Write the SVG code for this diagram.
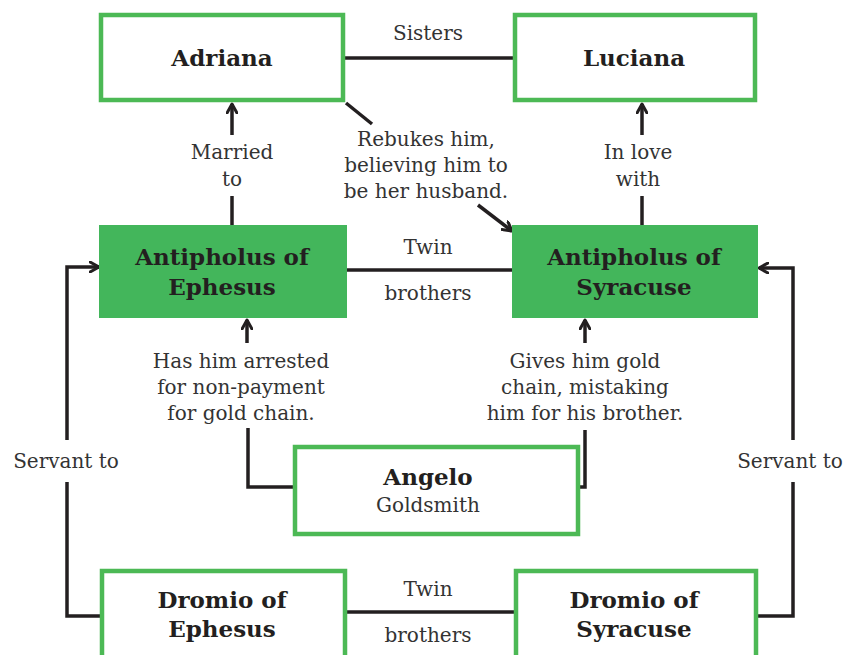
<svg xmlns="http://www.w3.org/2000/svg" width="855" height="655" viewBox="0 0 855 655">
  <defs>
    <marker id="arrow" viewBox="0 0 12 12" refX="10" refY="6" markerWidth="12" markerHeight="12" markerUnits="userSpaceOnUse" orient="auto">
      <path d="M1,1 L10,6 L1,11" fill="none" stroke="#231f20" stroke-width="3" stroke-linecap="round" stroke-linejoin="round"/>
    </marker>
  </defs>
  <style>
    .box { fill: #ffffff; stroke: #4cb955; stroke-width: 4.5; }
    .fill { fill: #43b65b; stroke: #43b65b; stroke-width: 2; }
    .name { font-family: "DejaVu Serif", "Liberation Serif", serif; font-weight: bold; font-size: 23px; fill: #231f20; text-anchor: middle; }
    .lbl { font-family: "DejaVu Serif", "Liberation Serif", serif; font-size: 20px; fill: #333333; text-anchor: middle; }
    .ln { fill: none; stroke: #231f20; stroke-width: 3.5; stroke-linejoin: miter; }
  </style>
  <rect width="855" height="655" fill="#ffffff"/>

  <!-- connectors -->
  <g id="connectors">
    <path class="ln" d="M343,58 L515,58"/>
    <path class="ln" d="M346,270 L513,270"/>
    <path class="ln" d="M345,612 L515,612"/>
    <!-- married to -->
    <path class="ln" d="M232,135 L232,104" marker-end="url(#arrow)"/>
    <path class="ln" d="M232,196 L232,226"/>
    <!-- in love with -->
    <path class="ln" d="M642,135 L642,104" marker-end="url(#arrow)"/>
    <path class="ln" d="M642,196 L642,226"/>
    <!-- rebukes -->
    <path class="ln" d="M346,103 L372,124"/>
    <path class="ln" d="M478,205 L512,231" marker-end="url(#arrow)"/>
    <!-- arrested / gold chain -->
    <path class="ln" d="M247,343 L247,320" marker-end="url(#arrow)"/>
    <path class="ln" d="M248,428 L248,487 L295,487"/>
    <path class="ln" d="M585,343 L585,320" marker-end="url(#arrow)"/>
    <path class="ln" d="M585,430 L585,487 L578,487"/>
    <!-- servant to (left) -->
    <path class="ln" d="M101,616 L67,616 L67,482"/>
    <path class="ln" d="M67,440 L67,267 L99,267" marker-end="url(#arrow)"/>
    <!-- servant to (right) -->
    <path class="ln" d="M757,616 L793,616 L793,482"/>
    <path class="ln" d="M793,440 L793,268 L759,268" marker-end="url(#arrow)"/>
  </g>

  <!-- connector labels -->
  <g id="labels">
    <text class="lbl" x="428" y="40">Sisters</text>
    <text class="lbl" x="232" y="159">Married</text>
    <text class="lbl" x="232" y="186">to</text>
    <text class="lbl" x="638" y="159">In love</text>
    <text class="lbl" x="638" y="186">with</text>
    <text class="lbl" x="426" y="146">Rebukes him,</text>
    <text class="lbl" x="426" y="172">believing him to</text>
    <text class="lbl" x="426" y="198">be her husband.</text>
    <text class="lbl" x="428" y="254">Twin</text>
    <text class="lbl" x="428" y="300">brothers</text>
    <text class="lbl" x="241" y="368">Has him arrested</text>
    <text class="lbl" x="241" y="394">for non-payment</text>
    <text class="lbl" x="241" y="420">for gold chain.</text>
    <text class="lbl" x="585" y="368">Gives him gold</text>
    <text class="lbl" x="585" y="394">chain, mistaking</text>
    <text class="lbl" x="585" y="420">him for his brother.</text>
    <text class="lbl" x="66" y="468">Servant to</text>
    <text class="lbl" x="790" y="468">Servant to</text>
    <text class="lbl" x="428" y="596">Twin</text>
    <text class="lbl" x="428" y="642">brothers</text>
  </g>

  <g id="adriana">
    <rect class="box" x="101" y="15" width="242" height="85"/>
    <text class="name" x="222" y="66">Adriana</text>
  </g>
  <g id="luciana">
    <rect class="box" x="515" y="15" width="240" height="85"/>
    <text class="name" x="634" y="66">Luciana</text>
  </g>
  <g id="antipholus-ephesus">
    <rect class="fill" x="100" y="226" width="246" height="91"/>
    <text class="name" x="222" y="265">Antipholus of</text>
    <text class="name" x="222" y="295">Ephesus</text>
  </g>
  <g id="antipholus-syracuse">
    <rect class="fill" x="513" y="226" width="244" height="91"/>
    <text class="name" x="634" y="265">Antipholus of</text>
    <text class="name" x="634" y="295">Syracuse</text>
  </g>
  <g id="angelo">
    <rect class="box" x="295" y="447" width="283" height="87"/>
    <text class="name" x="428" y="485">Angelo</text>
    <text class="lbl" x="428" y="512">Goldsmith</text>
  </g>
  <g id="dromio-ephesus">
    <rect class="box" x="102" y="571" width="243" height="100"/>
    <text class="name" x="222" y="608">Dromio of</text>
    <text class="name" x="222" y="637">Ephesus</text>
  </g>
  <g id="dromio-syracuse">
    <rect class="box" x="516" y="571" width="240" height="100"/>
    <text class="name" x="634" y="608">Dromio of</text>
    <text class="name" x="634" y="637">Syracuse</text>
  </g>
</svg>
